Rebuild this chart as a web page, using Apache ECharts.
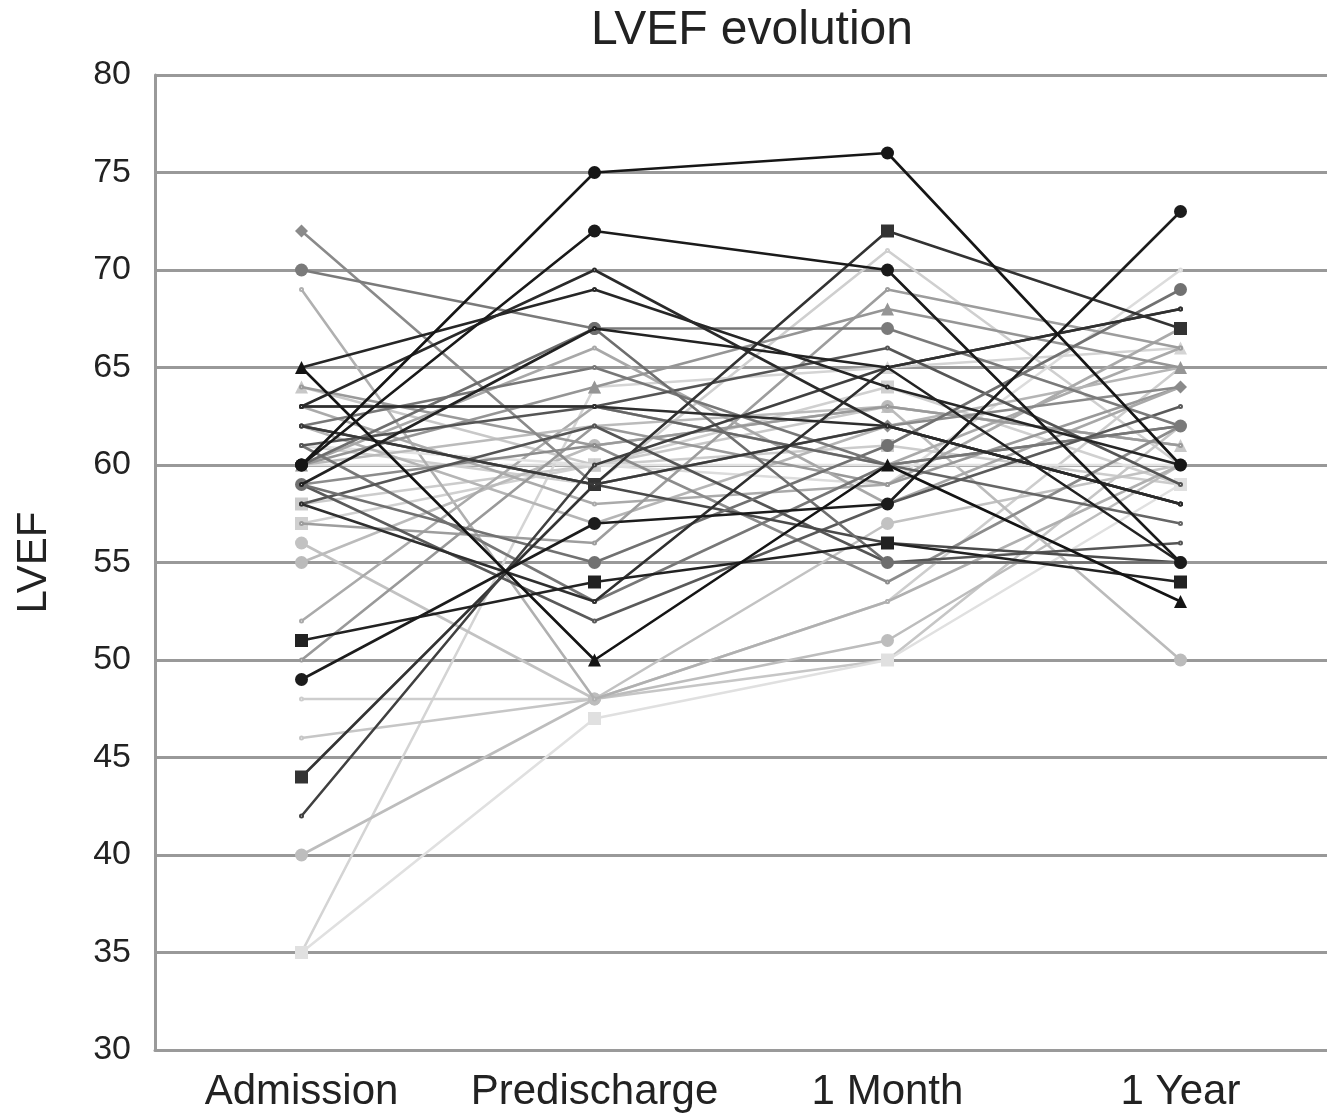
<!DOCTYPE html>
<html>
<head>
<meta charset="utf-8">
<script src="https://cdn.jsdelivr.net/npm/echarts@6/dist/echarts.min.js"></script>
<style>
html,body{margin:0;padding:0;background:#fff;}
#chart{width:1327px;height:1114px;}
</style>
</head>
<body>
<div id="chart"></div>
<script>
// Categories and axis ticks
var categories = ['Admission', 'Predischarge', '1 Month', '1 Year'];
var yTicks = [30, 35, 40, 45, 50, 55, 60, 65, 70, 75, 80];

// LVEF values per patient (index i = one patient line)
var admission    = [60, 61, 35, 58, 57, 64, 48, 46, 56, 35, 40, 69, 55, 52, 61, 60, 62, 63, 57, 50, 60, 64, 59, 60, 62, 72, 63, 61, 59, 58, 61, 62, 70, 60, 59, 44, 42, 63, 62, 58, 65, 51, 49, 65, 59, 63, 60, 60];
var predischarge = [60, 59, 64, 60, 60, 60, 48, 48, 48, 47, 48, 48, 61, 63, 60, 62, 57, 58, 56, 62, 66, 61, 61, 64, 65, 59, 63, 53, 52, 62, 63, 59, 67, 67, 55, 59, 60, 63, 59, 53, 69, 54, 57, 50, 67, 70, 72, 75];
var oneMonth     = [59, 71, 65, 61, 64, 63, 53, 50, 57, 50, 51, 53, 63, 60, 60, 63, 62, 59, 69, 59, 58, 63, 54, 68, 60, 62, 60, 60, 58, 55, 66, 56, 67, 55, 61, 72, 65, 62, 62, 65, 64, 56, 58, 60, 65, 62, 70, 76];
var oneYear      = [70, 60, 66, 59, 59, 61, 65, 62, 60, 59, 60, 60, 50, 66, 60, 61, 65, 67, 66, 64, 64, 61, 62, 65, 62, 64, 57, 62, 63, 56, 59, 55, 62, 55, 69, 67, 68, 58, 58, 68, 60, 54, 73, 53, 55, 58, 55, 60];

// Styles (separate from values)
var lineColors = ['#dcdcdc', '#cfcfcf', '#d4d4d4', '#cccccc', '#d0d0d0', '#c8c8c8', '#cdcdcd', '#c6c6c6', '#c2c2c2', '#e0e0e0', '#bdbdbd', '#b0b0b0', '#bbbbbb', '#aaaaaa', '#e2e2e2', '#bbbbbb', '#b5b5b5', '#aaaaaa', '#9d9d9d', '#999999', '#a8a8a8', '#9a9a9a', '#8c8c8c', '#959595', '#777777', '#8a8a8a', '#666666', '#777777', '#5a5a5a', '#555555', '#555555', '#4a4a4a', '#7a7a7a', '#6e6e6e', '#717171', '#333333', '#404040', '#2e2e2e', '#3a3a3a', '#2f2f2f', '#262626', '#222222', '#1c1c1c', '#141414', '#222222', '#2a2a2a', '#1a1a1a', '#161616'];
var lineSymbols = ['none', 'none', 'triangle', 'rect', 'rect', 'triangle', 'none', 'none', 'circle', 'rect', 'circle', 'none', 'circle', 'none', 'none', 'none', 'none', 'none', 'none', 'none', 'none', 'none', 'none', 'triangle', 'none', 'diamond', 'none', 'none', 'none', 'none', 'none', 'none', 'circle', 'circle', 'circle', 'rect', 'none', 'none', 'none', 'none', 'none', 'rect', 'circle', 'triangle', 'none', 'none', 'circle', 'circle'];

var series = admission.map(function (v, i) {
  return {
    type: 'line',
    data: [admission[i], predischarge[i], oneMonth[i], oneYear[i]],
    symbol: lineSymbols[i] === 'none' ? 'emptyCircle' : lineSymbols[i],
    showSymbol: true,
    symbolSize: lineSymbols[i] === 'none' ? 3 : 13,
    lineStyle: { color: lineColors[i], width: 2.6 },
    itemStyle: { color: lineColors[i], borderColor: lineColors[i], borderWidth: 0 },
    emphasis: { disabled: true },
    z: 2 + i / 100
  };
});

var chart = echarts.init(document.getElementById('chart'), null, { renderer: 'canvas' });
chart.setOption({
  animation: false,
  backgroundColor: '#ffffff',
  title: {
    text: 'LVEF evolution',
    left: 747,
    textAlign: 'center',
    top: 2,
    textStyle: { fontFamily: 'Liberation Sans', fontSize: 48, fontWeight: 'normal', color: '#222' }
  },
  grid: { left: 155, right: 0, top: 75, bottom: 64, containLabel: false, outerBoundsMode: 'none' },
  xAxis: {
    type: 'category',
    data: categories,
    boundaryGap: true,
    axisLine: { show: true, lineStyle: { color: '#9a9a9a', width: 3 } },
    axisTick: { show: false },
    axisLabel: { interval: 0, fontFamily: 'Liberation Sans', fontSize: 42, color: '#222', margin: 21 },
    splitLine: { show: false }
  },
  yAxis: {
    type: 'value',
    min: yTicks[0],
    max: yTicks[yTicks.length - 1],
    interval: 5,
    name: 'LVEF',
    nameLocation: 'middle',
    nameRotate: 90,
    nameGap: 100,
    nameTextStyle: { fontFamily: 'Liberation Sans', fontSize: 42, color: '#222' },
    axisLine: { show: true, lineStyle: { color: '#9a9a9a', width: 3 } },
    axisTick: { show: false },
    axisLabel: { fontFamily: 'Liberation Sans', fontSize: 34, color: '#222', margin: 24 },
    splitLine: { show: true, lineStyle: { color: '#999999', width: 3 } }
  },
  series: series
});
</script>
</body>
</html>
